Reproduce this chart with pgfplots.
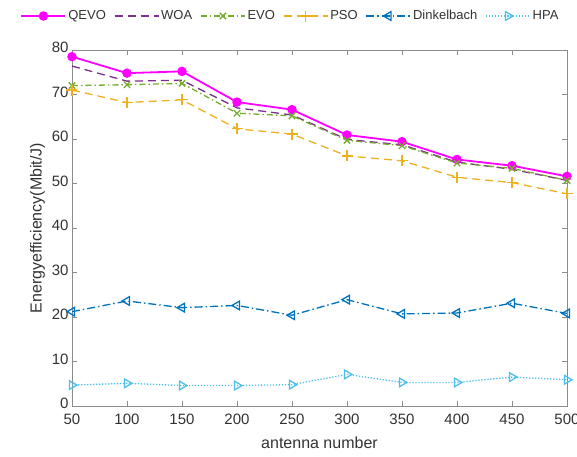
\documentclass[border=0pt]{standalone}
\usepackage{pgfplots}
\pgfplotsset{compat=1.18}
\usepackage{fontspec}
\setmainfont{Liberation Sans}
\definecolor{cq}{RGB}{255,0,255}
\definecolor{cw}{RGB}{126,47,142}
\definecolor{ce}{RGB}{119,172,48}
\definecolor{cp}{RGB}{237,177,32}
\definecolor{cd}{RGB}{0,114,189}
\definecolor{ch}{RGB}{77,190,238}
\definecolor{axgray}{RGB}{140,140,140}
\definecolor{txgray}{RGB}{50,50,50}
\begin{document}
\begin{tikzpicture}
% fixed page: axis box at (72,46)-(567,402) of a 577x452 sheet
\useasboundingbox (-72pt,-50pt) rectangle (505pt,406pt);
\begin{axis}[
    scale only axis,
    width=495pt, height=356pt,
    xmin=50, xmax=500, ymin=0, ymax=80,
    xtick={50,100,...,500},
    ytick={0,10,...,80},
    tick align=inside,
    axis line style={axgray, line width=0.8pt},
    every tick/.style={axgray, line width=0.8pt},
    major tick length=5pt,
    ticklabel style={font=\fontsize{15}{17}\selectfont, text=txgray},
    xticklabel style={yshift=-4pt},
    yticklabel style={yshift=2.5pt},
    /pgf/number format/assume math mode=true,
    xlabel={antenna number},
    ylabel={Energyefficiency(Mbit/J)},
    label style={font=\fontsize{16}{18}\selectfont, text=txgray},
    xlabel style={yshift=-6pt},
    legend columns=6,
    legend style={draw=none, fill=none, font=\fontsize{13}{15}\selectfont, text=txgray,
        at={(0.5,1)}, anchor=center, xshift=-29pt, yshift=34pt,
        /tikz/every even column/.append style={column sep=6pt}},
    legend image code/.code={
        \draw[mark repeat=2, mark phase=2]
        plot coordinates {(0pt,0pt) (22pt,0pt) (44pt,0pt)};},
]
\addplot[cq, line width=1.8pt, mark=*, mark size=3.8pt]
  coordinates {(50,78.5) (100,74.8) (150,75.2) (200,68.3) (250,66.6) (300,60.9) (350,59.4) (400,55.4) (450,54.0) (500,51.6)};
\addlegendentry{QEVO}
\addplot[cw, line width=1.3pt, dash pattern=on 8pt off 5pt]
  coordinates {(50,76.4) (100,73.0) (150,73.2) (200,67.0) (250,65.4) (300,59.9) (350,58.7) (400,54.8) (450,53.2) (500,50.7)};
\addlegendentry{WOA}
\addplot[ce, line width=1.3pt, dash pattern=on 6pt off 3pt on 1.5pt off 3pt, mark=x, mark size=4.5pt, mark options={solid}]
  coordinates {(50,72.0) (100,72.2) (150,72.5) (200,65.8) (250,65.2) (300,59.7) (350,58.5) (400,54.6) (450,53.4) (500,50.7)};
\addlegendentry{EVO}
\addplot[cp, line width=1.3pt, dash pattern=on 8pt off 5pt, mark=+, mark size=5.5pt, mark options={solid}]
  coordinates {(50,71.0) (100,68.2) (150,68.8) (200,62.3) (250,61.1) (300,56.2) (350,55.1) (400,51.4) (450,50.2) (500,47.7)};
\addlegendentry{PSO}
\addplot[cd, line width=1.3pt, dash pattern=on 8pt off 3pt on 1.5pt off 3pt, mark=triangle, mark size=5pt, mark options={solid, rotate=90}]
  coordinates {(50,21.2) (100,23.6) (150,22.1) (200,22.6) (250,20.4) (300,23.9) (350,20.7) (400,20.9) (450,23.1) (500,20.8)};
\addlegendentry{Dinkelbach}
\addplot[ch, line width=1.3pt, dash pattern=on 1.3pt off 1.7pt, mark=triangle, mark size=5pt, mark options={solid, rotate=-90}]
  coordinates {(50,4.7) (100,5.1) (150,4.6) (200,4.6) (250,4.8) (300,7.1) (350,5.3) (400,5.3) (450,6.5) (500,5.9)};
\addlegendentry{HPA}
\end{axis}
\end{tikzpicture}
\end{document}
